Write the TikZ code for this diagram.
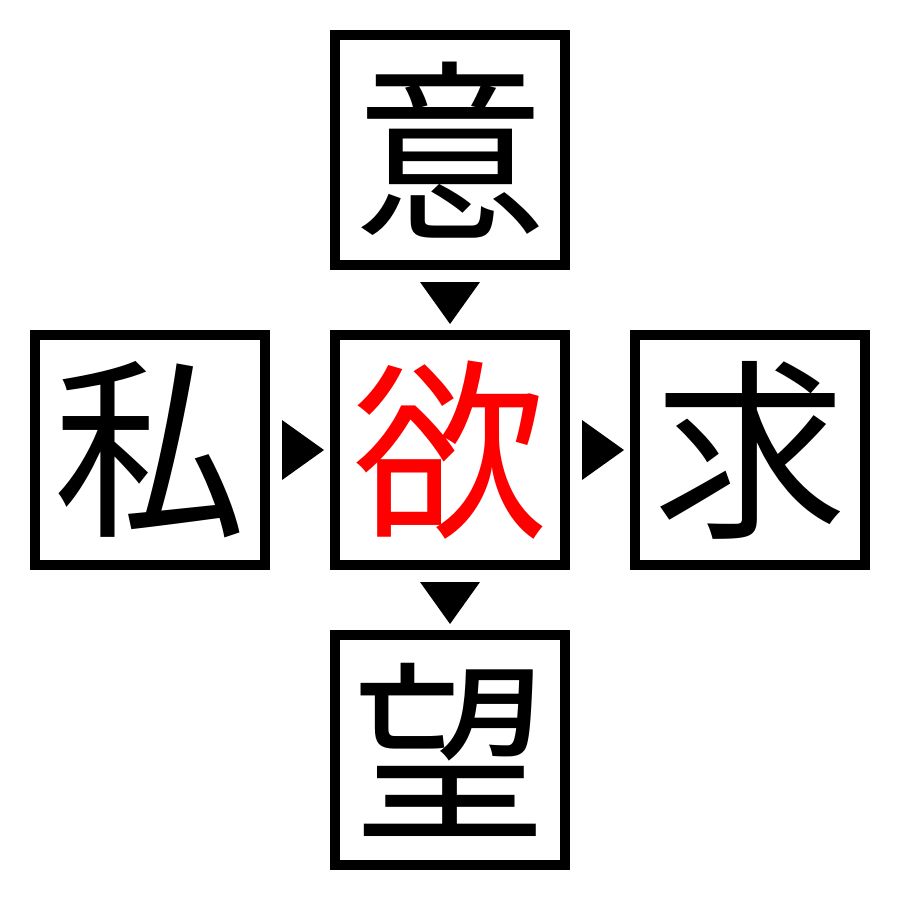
\documentclass[tikz,border=0pt]{standalone}
\usepackage{fontspec}
\newfontfamily\cjk{Noto Sans CJK JP}
\definecolor{kred}{RGB}{255,0,0}
\begin{document}
\begin{tikzpicture}[x=0.01cm,y=-0.01cm,
  kbox/.style={draw=black,line width=0.1cm,fill=white,minimum size=2.3cm,inner sep=0pt,font=\cjk\fontsize{55}{55}\selectfont},
  tri/.style={fill=black,draw=none}]
\useasboundingbox (0,0) rectangle (900,900);
\fill[white] (0,0) rectangle (900,900);
\node[kbox] (top) at (450,150) {意};
\node[kbox] (left) at (150,450) {私};
\node[kbox,text=kred] (mid) at (450,450) {欲};
\node[kbox] (right) at (750,450) {求};
\node[kbox] (bot) at (450,750) {望};
\coordinate (t1) at (450,303);
\coordinate (t2) at (450,603);
\coordinate (t3) at (303,450);
\coordinate (t4) at (603,450);
\fill[tri] ([shift={(-30,-21)}]t1) -- ([shift={(30,-21)}]t1) -- ([shift={(0,21)}]t1) -- cycle;
\fill[tri] ([shift={(-30,-21)}]t2) -- ([shift={(30,-21)}]t2) -- ([shift={(0,21)}]t2) -- cycle;
\fill[tri] ([shift={(-21,-30)}]t3) -- ([shift={(-21,30)}]t3) -- ([shift={(21,0)}]t3) -- cycle;
\fill[tri] ([shift={(-21,-30)}]t4) -- ([shift={(-21,30)}]t4) -- ([shift={(21,0)}]t4) -- cycle;
\end{tikzpicture}
\end{document}
